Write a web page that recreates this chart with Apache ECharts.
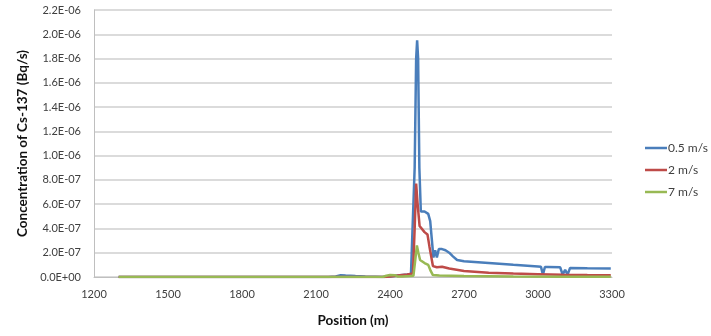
<!DOCTYPE html>
<html>
<head>
<meta charset="utf-8">
<script src="https://cdn.jsdelivr.net/npm/echarts@6/dist/echarts.min.js"></script>
<style>html,body{margin:0;padding:0;background:#fff;}#c{width:711px;height:336px;}</style>
</head>
<body>
<div id="c"></div>
<script>
// Position (m) and concentration (Bq/s) per series
const seriesNames = ['0.5 m/s', '2 m/s', '7 m/s'];
const blueX = [1300,2150,2180,2200,2220,2260,2300,2340,2380,2400,2440,2470,2485,2493,2500,2506,2510,2514,2519,2525,2540,2555,2563,2570,2576,2583,2590,2598,2611,2625,2640,2655,2672,2700,2800,2900,3000,3012,3020,3028,3040,3090,3100,3110,3120,3130,3200,3295];
const blueY = [0,0,5e-9,1.5e-8,1.2e-8,8e-9,5e-9,3e-9,1e-9,5e-9,1.5e-8,2e-8,2.5e-8,4e-8,9e-7,1.8e-6,1.95e-6,1.8e-6,9e-7,5.4e-7,5.4e-7,5.2e-7,4.6e-7,3.0e-7,1.6e-7,2.2e-7,1.6e-7,2.3e-7,2.3e-7,2.2e-7,2.0e-7,1.7e-7,1.4e-7,1.3e-7,1.15e-7,1.0e-7,8.7e-8,8.5e-8,2.0e-8,8.2e-8,8.2e-8,8.0e-8,2.0e-8,6.0e-8,2.0e-8,7.5e-8,7.2e-8,7.0e-8];
const redX = [1300,2380,2400,2440,2470,2493,2500,2506,2512,2520,2540,2552,2560,2574,2590,2611,2640,2700,2800,2900,3000,3100,3200,3295];
const redY = [0,0,5e-9,1.5e-8,2e-8,3e-8,4e-7,7.7e-7,6e-7,4.2e-7,3.7e-7,3.5e-7,2.5e-7,9e-8,8e-8,8.5e-8,7e-8,5e-8,3.5e-8,2.8e-8,2.3e-8,1.8e-8,1.6e-8,1.5e-8];
const greenX = [1300,2370,2385,2400,2420,2430,2450,2480,2495,2503,2509,2515,2522,2540,2555,2565,2574,2600,2700,2900,3100,3295];
const greenY = [0,0,1e-8,1.6e-8,1.5e-8,5e-9,5e-9,8e-9,1e-8,1.5e-7,2.6e-7,2.0e-7,1.4e-7,1.15e-7,1.0e-7,5e-8,1.6e-8,1.2e-8,8e-9,5e-9,3e-9,2e-9];
const xTicks = {min: 1200, max: 3300, interval: 300};
const yTicks = {min: 0, max: 2.2e-6, interval: 2e-7};

function zip(xs, ys){ return xs.map((x,i)=>[x, ys[i]]); }
function fmtE(v){
  const s = Number(v).toExponential(1);
  const m = s.match(/^(-?[\d.]+)e([+-])(\d+)$/);
  if(!m) return s;
  return m[1] + 'E' + m[2] + (m[3].length < 2 ? '0' + m[3] : m[3]);
}
const colors = ['#4a7ebb', '#be4b48', '#98b954'];
const font = 'Lato, "Open Sans", sans-serif';
const chart = echarts.init(document.getElementById('c'), null, {renderer: 'canvas'});
chart.setOption({
  animation: false,
  backgroundColor: '#fff',
  grid: {left: 94, right: 99, top: 10, bottom: 59, containLabel: false},
  legend: {
    orient: 'vertical', left: 640, top: 137,
    itemWidth: 22, itemHeight: 2.5, itemGap: 10,
    icon: 'rect',
    data: seriesNames,
    textStyle: {fontFamily: font, fontSize: 12, color: '#404040', padding: [0,0,0,-4]}
  },
  xAxis: {
    type: 'value', min: xTicks.min, max: xTicks.max, interval: xTicks.interval,
    name: 'Position (m)', nameLocation: 'middle', nameGap: 37,
    nameTextStyle: {fontFamily: font, fontSize: 13.5, fontWeight: 'bold', color: '#111'},
    axisLine: {show: true, lineStyle: {color: '#bfbfbf', width: 1}},
    axisTick: {show: false},
    splitLine: {show: false},
    axisLabel: {fontFamily: font, fontSize: 11, color: '#404040', margin: 12, formatter: v => String(v)}
  },
  yAxis: {
    type: 'value', min: yTicks.min, max: yTicks.max, interval: yTicks.interval,
    name: 'Concentration of Cs-137 (Bq/s)', nameLocation: 'middle', nameGap: 63, nameRotate: 90,
    nameTextStyle: {fontFamily: font, fontSize: 13.5, fontWeight: 'bold', color: '#111'},
    axisLine: {show: true, lineStyle: {color: '#bfbfbf', width: 1}},
    axisTick: {show: false},
    splitLine: {show: true, lineStyle: {color: '#cfcfcf', width: 1.5}},
    axisLabel: {fontFamily: font, fontSize: 11, color: '#404040', margin: 13, formatter: fmtE}
  },
  series: [
    {name: seriesNames[0], type: 'line', data: zip(blueX, blueY), symbol: 'none', smooth: false, lineStyle: {width: 2.5, color: colors[0]}, itemStyle: {color: colors[0]}},
    {name: seriesNames[1], type: 'line', data: zip(redX, redY), symbol: 'none', smooth: false, lineStyle: {width: 2.5, color: colors[1]}, itemStyle: {color: colors[1]}},
    {name: seriesNames[2], type: 'line', data: zip(greenX, greenY), symbol: 'none', smooth: false, lineStyle: {width: 2.5, color: colors[2]}, itemStyle: {color: colors[2]}}
  ]
});
</script>
</body>
</html>
